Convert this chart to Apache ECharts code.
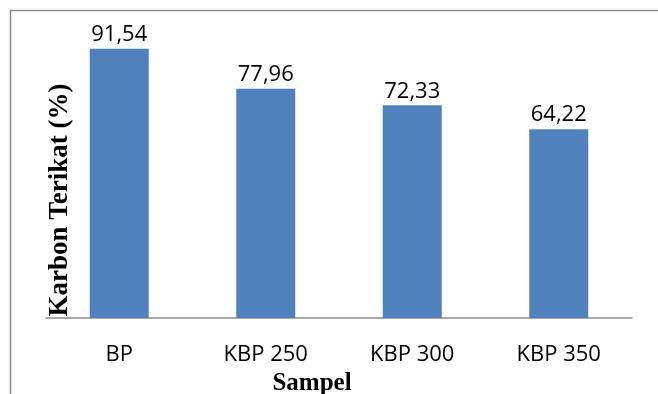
<!DOCTYPE html>
<html>
<head>
<meta charset="utf-8">
<script src="https://cdn.jsdelivr.net/npm/echarts@6/dist/echarts.min.js"></script>
<style>
  html, body { margin: 0; padding: 0; background: #fff; }
  #chart { width: 658px; height: 394px; }
</style>
</head>
<body>
<div id="chart"></div>
<script>
const categories = ["BP", "KBP 250", "KBP 300", "KBP 350"];
const values = [91.54, 77.96, 72.33, 64.22];
const yTitle = "Karbon Terikat (%)";
const xTitle = "Sampel";

const chart = echarts.init(document.getElementById("chart"));

const titleStyle = {
  fontFamily: "Liberation Serif",
  fontWeight: "bold",
  fill: "#000",
  align: "center",
  verticalAlign: "middle"
};

const option = {
  animation: false,
  backgroundColor: "#fff",
  graphic: [
    {
      type: "rect",
      shape: { x: 10.5, y: 10.5, width: 700, height: 500 },
      style: { fill: "none", stroke: "#8c8c8c", lineWidth: 1.5 }
    },
    {
      // axis titles sit off-centre in the original, so place them by hand
      type: "text",
      x: 60,
      y: 200,
      rotation: Math.PI / 2,
      style: Object.assign({ text: yTitle, fontSize: 27 }, titleStyle)
    },
    {
      type: "text",
      x: 312,
      y: 384,
      style: Object.assign({ text: xTitle, fontSize: 25 }, titleStyle)
    }
  ],
  grid: { left: 46, right: 26, top: 24, bottom: 76 },
  xAxis: {
    type: "category",
    data: categories,
    axisLine: { lineStyle: { color: "#8c8c8c", width: 1.5 } },
    axisTick: { show: false },
    axisLabel: {
      margin: 26,
      fontFamily: "Open Sans",
      fontSize: 22,
      color: "#000"
    }
  },
  yAxis: {
    type: "value",
    min: 0,
    max: 100,
    axisLine: { show: false },
    axisTick: { show: false },
    axisLabel: { show: false },
    splitLine: { show: false }
  },
  series: [
    {
      type: "bar",
      data: values,
      barWidth: 59,
      itemStyle: { color: "#4f81bd" },
      label: {
        show: true,
        position: "top",
        distance: 3,
        fontFamily: "Open Sans",
        fontSize: 22,
        color: "#000",
        formatter: p => p.value.toFixed(2).replace(".", ",")
      }
    }
  ]
};

chart.setOption(option);
</script>
</body>
</html>
